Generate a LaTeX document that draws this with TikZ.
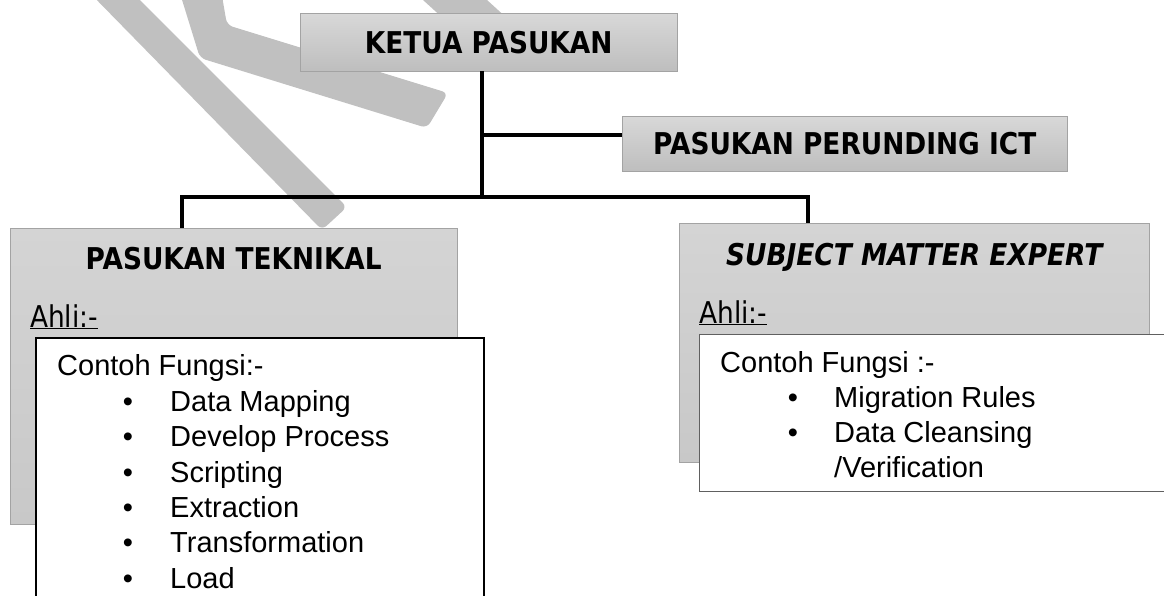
\documentclass[tikz,border=0pt]{standalone}
\usepackage{fontspec}
\setmainfont{Liberation Sans}
\newfontfamily\tahoma[FakeStretch=0.88]{DejaVu Sans}
\usepackage{tikz}
\usetikzlibrary{positioning}
\definecolor{leadtop}{HTML}{D8D8D8}
\definecolor{leadbot}{HTML}{BEBEBE}
\definecolor{teamtop}{HTML}{D4D4D4}
\definecolor{teambot}{HTML}{C8C8C8}
\definecolor{edgegray}{HTML}{A3A3A3}
\definecolor{markgray}{HTML}{C0C0C0}
\definecolor{smeedge}{HTML}{606060}

\begin{document}
\begin{tikzpicture}[x=1pt,y=-1pt,
  leadbox/.style={draw=edgegray,top color=leadtop,bottom color=leadbot,anchor=north west,inner sep=0pt},
  teambox/.style={draw=edgegray,top color=teamtop,bottom color=teambot,anchor=north west,inner sep=0pt},
  listbox/.style={draw,fill=white,anchor=north west,inner sep=0pt},
  head/.style={font=\tahoma\bfseries\fontsize{30}{36}\selectfont,inner sep=0pt},
  ahlitext/.style={font=\tahoma\fontsize{30}{36}\selectfont,inner sep=0pt,anchor=base west},
  body/.style={font=\fontsize{29}{35}\selectfont,inner sep=0pt,anchor=base west},
  dot/.style={font=\fontsize{29}{35}\selectfont,inner sep=0pt,anchor=base},
  link/.style={line width=3.5pt}
  ]
  \clip (0,0) rectangle (1164,595);

  % watermark strokes
  \fill[markgray,rounded corners=6pt] (87,-10) -- (130,-10) -- (347,207) -- (322,230) -- cycle;
  \fill[markgray,rounded corners=6pt] (179,-10) -- (221,-10) -- (227,25) -- (448,93) -- (427,128) -- (200,58) -- cycle;
  \fill[markgray] (412,-10) -- (476,-10) -- (520,30) -- (456,30) -- cycle;

  % top of the chart
  \node[leadbox,head,minimum width=377pt,minimum height=58pt] (ketua) at (300,13) {KETUA PASUKAN};
  \node[leadbox,head,minimum width=445pt,minimum height=55pt] (perunding) at (622,116) {PASUKAN PERUNDING ICT};

  % pasukan teknikal
  \node[teambox,minimum width=447pt,minimum height=296pt] (teknikal) at (10,228) {};
  \node[head,below=18.7pt of teknikal.north] (teknikalhead) {PASUKAN TEKNIKAL};
  \node[ahlitext] (teknikalahli) at (30,327) {\underline{Ahli:-}};
  \node[listbox,line width=1.5pt,minimum width=448pt,minimum height=290pt] (teknikalfungsi) at (35,337) {};
  \node[body] (teknikalcontoh) at (57,375) {Contoh Fungsi:-};
  \foreach \fn [count=\i] in {Data Mapping,Develop Process,Scripting,Extraction,Transformation,Load}{
    \node[dot] (tekdot\i) at (128,{411.5+35.3*(\i-1)}) {\textbullet};
    \node[body] (tekitem\i) at (170,{411.5+35.3*(\i-1)}) {\fn};
  }

  % subject matter expert
  \node[teambox,minimum width=470pt,minimum height=239pt] (sme) at (679,223) {};
  \node[head,below=20.3pt of sme.north] (smehead) {\itshape SUBJECT MATTER EXPERT};
  \node[ahlitext] (smeahli) at (699,323) {\underline{Ahli:-}};
  \node[listbox,draw=smeedge,line width=1pt,minimum width=480pt,minimum height=157pt] (smefungsi) at (699,334) {};
  \node[body] (smecontoh) at (720,372) {Contoh Fungsi :-};
  \foreach \fn [count=\i] in {Migration Rules,Data Cleansing}{
    \node[dot] (smedot\i) at (793,{407+35*(\i-1)}) {\textbullet};
    \node[body] (smeitem\i) at (834,{407+35*(\i-1)}) {\fn};
  }
  \node[body] (smeitem3) at (834,477) {/Verification};

  % connectors
  \coordinate (hub) at (482,197);
  \coordinate (branch) at (482,135);
  \coordinate (tekdrop) at (182,197);
  \coordinate (smedrop) at (808,197);
  \draw[link] (ketua.south -| hub) -- (hub);
  \draw[link] (branch) -- (branch -| perunding.west);
  \draw[link] (teknikal.north -| tekdrop) -- (tekdrop) -- (smedrop) -- (sme.north -| smedrop);
\end{tikzpicture}
\end{document}
